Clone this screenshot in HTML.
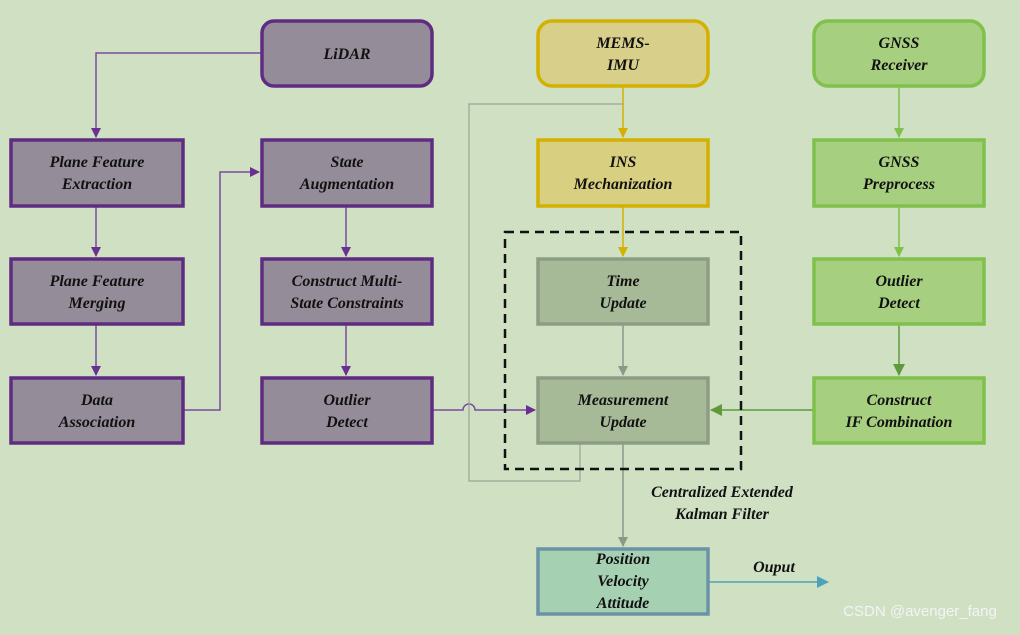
<!DOCTYPE html>
<html><head><style>
html,body{margin:0;padding:0;background:#cfe0c3;}
svg text{font-family:"Liberation Serif",serif;font-weight:bold;font-style:italic;font-size:16px;fill:#111;text-anchor:middle;}
</style></head><body>
<svg width="1020" height="630" viewBox="0 0 1020 630" xmlns="http://www.w3.org/2000/svg">
<defs>
<marker id="ap" markerWidth="10" markerHeight="10" refX="9" refY="5" orient="auto" markerUnits="userSpaceOnUse"><path d="M0,0 L10,5 L0,10z" fill="#6a3090"/></marker>
<marker id="ay" markerWidth="10" markerHeight="10" refX="9" refY="5" orient="auto" markerUnits="userSpaceOnUse"><path d="M0,0 L10,5 L0,10z" fill="#d4b000"/></marker>
<marker id="ag" markerWidth="10" markerHeight="10" refX="9" refY="5" orient="auto" markerUnits="userSpaceOnUse"><path d="M0,0 L10,5 L0,10z" fill="#7fc14a"/></marker>
<marker id="agd" markerWidth="12" markerHeight="12" refX="11" refY="6" orient="auto" markerUnits="userSpaceOnUse"><path d="M0,0 L12,6 L0,12z" fill="#5e9a3c"/></marker>
<marker id="ak" markerWidth="10" markerHeight="10" refX="9" refY="5" orient="auto" markerUnits="userSpaceOnUse"><path d="M0,0 L10,5 L0,10z" fill="#8d9889"/></marker>
<marker id="ab" markerWidth="12" markerHeight="12" refX="11" refY="6" orient="auto" markerUnits="userSpaceOnUse"><path d="M0,0 L12,6 L0,12z" fill="#4fa3b8"/></marker>
</defs>
<g fill="none" stroke-width="1.5">
<path d="M261,53 H96 V137" stroke="#7a4aa0" marker-end="url(#ap)"/>
<path d="M96,206 V256" stroke="#7a4aa0" marker-end="url(#ap)"/>
<path d="M96,324 V375" stroke="#7a4aa0" marker-end="url(#ap)"/>
<path d="M183,410 H220 V172 H259" stroke="#7a4aa0" marker-end="url(#ap)"/>
<path d="M346,206 V256" stroke="#7a4aa0" marker-end="url(#ap)"/>
<path d="M346,324 V375" stroke="#7a4aa0" marker-end="url(#ap)"/>
<path d="M432,410 H463 A6,6 0 0 1 475,410 H535" stroke="#7a4aa0" marker-end="url(#ap)"/>
<path d="M623,86 V137" stroke="#d4b000" marker-end="url(#ay)"/>
<path d="M623,206 V256" stroke="#d4b000" marker-end="url(#ay)"/>
<path d="M580,443 V481 H469 V104 H623" stroke="#9aa596" stroke-width="1.2"/>
<path d="M623,324 V375" stroke="#8d9889" marker-end="url(#ak)"/>
<path d="M623,443 V546" stroke="#8d9889" marker-end="url(#ak)"/>
<path d="M899,86 V137" stroke="#7fc14a" marker-end="url(#ag)"/>
<path d="M899,206 V256" stroke="#7fc14a" marker-end="url(#ag)"/>
<path d="M899,324 V375" stroke="#5e9a3c" marker-end="url(#agd)"/>
<path d="M813,410 H711" stroke="#5e9a3c" marker-end="url(#agd)"/>
<path d="M709,582 H828" stroke="#4fa3b8" marker-end="url(#ab)"/>
</g>
<rect x="505" y="232" width="236" height="237" fill="none" stroke="#111" stroke-width="2.5" stroke-dasharray="9,6"/>
<g stroke-width="3.5">
<rect x="262" y="21" width="170" height="65" rx="12" fill="#948c98" stroke="#5f2c82"/>
<rect x="11" y="140" width="172" height="66" fill="#948c98" stroke="#5f2c82"/>
<rect x="11" y="259" width="172" height="65" fill="#948c98" stroke="#5f2c82"/>
<rect x="11" y="378" width="172" height="65" fill="#948c98" stroke="#5f2c82"/>
<rect x="262" y="140" width="170" height="66" fill="#948c98" stroke="#5f2c82"/>
<rect x="262" y="259" width="170" height="65" fill="#948c98" stroke="#5f2c82"/>
<rect x="262" y="378" width="170" height="65" fill="#948c98" stroke="#5f2c82"/>
<rect x="538" y="21" width="170" height="65" rx="14" fill="#d8cf8a" stroke="#d4b000"/>
<rect x="538" y="140" width="170" height="66" fill="#d8cf80" stroke="#d4b000"/>
<rect x="538" y="259" width="170" height="65" fill="#a6ba98" stroke="#8d9c85"/>
<rect x="538" y="378" width="170" height="65" fill="#a6ba98" stroke="#8d9c85"/>
<rect x="814" y="21" width="170" height="65" rx="14" fill="#a7cf80" stroke="#7fc14a"/>
<rect x="814" y="140" width="170" height="66" fill="#a7cf80" stroke="#7fc14a"/>
<rect x="814" y="259" width="170" height="65" fill="#a7cf80" stroke="#7fc14a"/>
<rect x="814" y="378" width="170" height="65" fill="#a7cf80" stroke="#7fc14a"/>
<rect x="538" y="549" width="170" height="65" fill="#a6d0b2" stroke="#6a93a6"/>
</g>
<text x="347" y="59">LiDAR</text>
<text x="97" y="167">Plane Feature</text><text x="97" y="189">Extraction</text>
<text x="97" y="286">Plane Feature</text><text x="97" y="308">Merging</text>
<text x="97" y="405">Data</text><text x="97" y="427">Association</text>
<text x="347" y="167">State</text><text x="347" y="189">Augmentation</text>
<text x="347" y="286">Construct Multi-</text><text x="347" y="308">State Constraints</text>
<text x="347" y="405">Outlier</text><text x="347" y="427">Detect</text>
<text x="623" y="48">MEMS-</text><text x="623" y="70">IMU</text>
<text x="623" y="167">INS</text><text x="623" y="189">Mechanization</text>
<text x="623" y="286">Time</text><text x="623" y="308">Update</text>
<text x="623" y="405">Measurement</text><text x="623" y="427">Update</text>
<text x="899" y="48">GNSS</text><text x="899" y="70">Receiver</text>
<text x="899" y="167">GNSS</text><text x="899" y="189">Preprocess</text>
<text x="899" y="286">Outlier</text><text x="899" y="308">Detect</text>
<text x="899" y="405">Construct</text><text x="899" y="427">IF Combination</text>
<text x="722" y="497">Centralized Extended</text><text x="722" y="519">Kalman Filter</text>
<text x="623" y="564">Position</text><text x="623" y="586">Velocity</text><text x="623" y="608">Attitude</text>
<text x="774" y="572">Ouput</text>
<text x="920" y="616" style="font-family:'Liberation Sans',sans-serif;font-weight:normal;font-style:normal;font-size:15px;fill:#f4f4f4;">CSDN @avenger_fang</text>
</svg>
</body></html>
